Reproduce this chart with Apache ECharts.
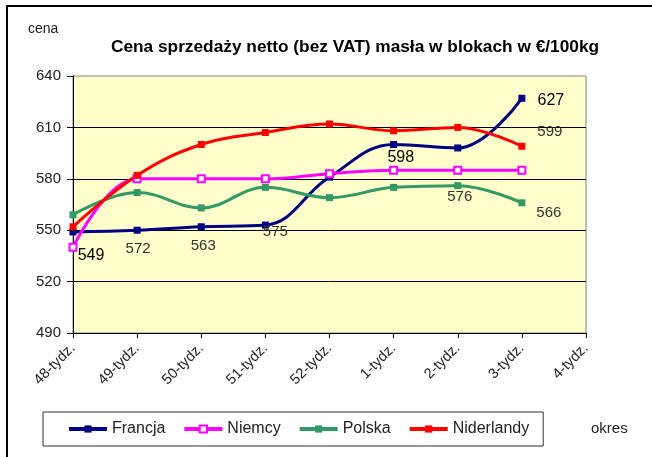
<!DOCTYPE html>
<html>
<head>
<meta charset="utf-8">
<script src="https://cdn.jsdelivr.net/npm/echarts@6/dist/echarts.min.js"></script>
<style>
html,body{margin:0;padding:0;background:#fff;}
#chart{width:652px;height:457px;}
</style>
</head>
<body>
<div id="chart"></div>
<script>
// kategorie i ceny (€/100kg)
var categories = ['48-tydz.', '49-tydz.', '50-tydz.', '51-tydz.', '52-tydz.', '1-tydz.', '2-tydz.', '3-tydz.', '4-tydz.'];
var francja = [549, 550, 552, 553, 581, 600, 598, 627];
var niemcy = [540, 580, 580, 580, 583, 585, 585, 585];
var polska = [559, 572, 563, 575, 569, 575, 576, 566];
var niderlandy = [552, 582, 600, 607, 612, 608, 610, 599];
var yTicks = [490, 520, 550, 580, 610, 640];

(function() {
	var myChart = echarts.init(document.getElementById('chart'));
	var font = 'Liberation Sans, Arial, sans-serif';

	// etykiety przy wybranych punktach: indeks -> przesunięcie
	function withLabels(values, marks, big) {
		return values.map(function(v, i) {
			if (!marks[i]) return v;
			return {
				value: v,
				label: {
					show: true,
					position: 'inside',
					offset: marks[i],
					align: 'center',
					verticalAlign: 'middle',
					fontFamily: font,
					fontSize: big ? 16 : 15,
					color: big ? '#000' : '#333',
					formatter: '{c}'
				}
			};
		});
	}

	function lineSeries(name, color, data, symbol) {
		return {
			name: name,
			type: 'line',
			data: data,
			smooth: 0.4,
			symbol: symbol || 'rect',
			symbolSize: 7,
			showAllSymbol: true,
			lineStyle: { color: color, width: 3 },
			itemStyle: symbol === 'emptyRect' ? { color: color, borderColor: color, borderWidth: 1.5 } : { color: color },
			emphasis: { disabled: true }
		};
	}

	var option = {
		animation: false,
		backgroundColor: '#fff',
		textStyle: { fontFamily: font },
		title: {
			text: 'Cena sprzedaży netto (bez VAT) masła w blokach w €/100kg',
			left: 350,
			top: 34,
			textAlign: 'center',
			textStyle: { fontFamily: font, fontSize: 17.3, fontWeight: 'bold', color: '#000' }
		},
		grid: {
			left: 73, right: 66, top: 76, bottom: 124,
			show: true,
			backgroundColor: '#FFFFCC',
			borderColor: '#808080',
			borderWidth: 1
		},
		legend: {
			left: 43,
			top: 412,
			padding: [9, 14, 9, 24],
			itemGap: 17,
			itemWidth: 38,
			itemHeight: 9,
			itemTextGap: -3,
			borderColor: '#333',
			borderWidth: 1,
			lineStyle: { width: 4 },
			textStyle: { fontFamily: font, fontSize: 16, color: '#222' },
			data: ['Francja', 'Niemcy', 'Polska', 'Niderlandy']
		},
		xAxis: {
			type: 'category',
			data: categories,
			boundaryGap: false,
			axisLine: { lineStyle: { color: '#000', width: 1 } },
			axisTick: { show: true, interval: 0, length: 5, lineStyle: { color: '#000' } },
			axisLabel: { interval: 0, rotate: 45, margin: 13, fontFamily: font, fontSize: 14.5, color: '#222' },
			splitLine: { show: false }
		},
		yAxis: {
			type: 'value',
			min: yTicks[0],
			max: yTicks[yTicks.length - 1],
			interval: 30,
			axisLine: { show: true, lineStyle: { color: '#000', width: 1 } },
			axisTick: { show: true, length: 6, lineStyle: { color: '#000' } },
			axisLabel: { margin: 12, fontFamily: font, fontSize: 15, color: '#222' },
			splitLine: { show: true, showMaxLine: false, lineStyle: { color: '#000', width: 1 } }
		},
		graphic: [
			{ type: 'polyline', shape: { points: [[7, 457], [7, 6], [652, 6]] }, style: { stroke: '#000', lineWidth: 2, fill: null } },
			{ type: 'text', left: 28, top: 22, style: { text: 'cena', font: '14px ' + font, fill: '#222' } },
			{ type: 'text', left: 591, top: 421, style: { text: 'okres', font: '15px ' + font, fill: '#222' } }
		],
		series: [
			lineSeries('Francja', '#000080', withLabels(francja, { 0: [18, 24], 6: [-57, 10], 7: [29, 2] }, true)),
			lineSeries('Niemcy', '#FF00FF', niemcy, 'emptyRect'),
			lineSeries('Polska', '#339966', withLabels(polska, { 1: [1, 56], 2: [2, 38], 3: [10, 44], 6: [2, 11], 7: [27, 10] }, false)),
			lineSeries('Niderlandy', '#FF0000', withLabels(niderlandy, { 7: [28, -14] }, false))
		]
	};

	myChart.setOption(option);
	window.addEventListener('resize', function() {
		myChart.resize();
	});
})();
</script>
</body>
</html>
